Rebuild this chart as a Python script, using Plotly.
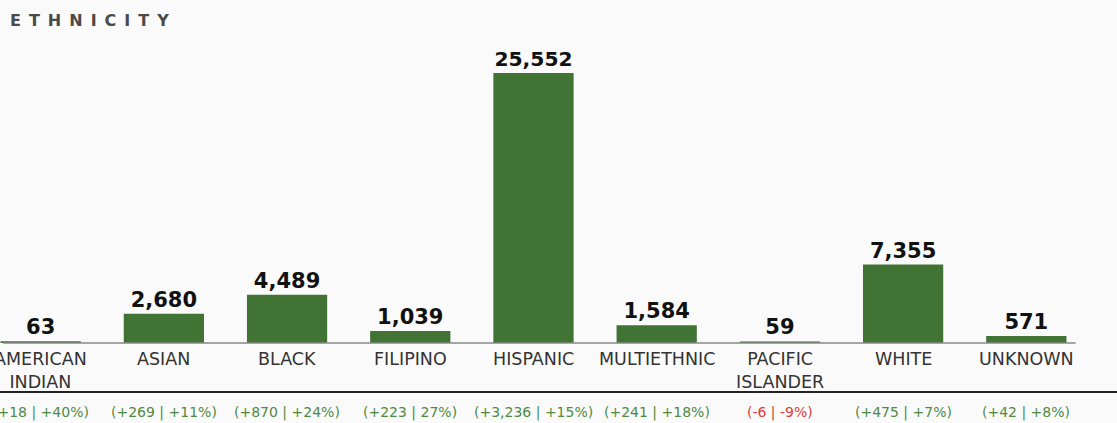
import plotly.graph_objects as go

categories = ["AMERICAN<br>INDIAN", "ASIAN", "BLACK", "FILIPINO", "HISPANIC",
              "MULTIETHNIC", "PACIFIC<br>ISLANDER", "WHITE", "UNKNOWN"]
values = [63, 2680, 4489, 1039, 25552, 1584, 59, 7355, 571]
changes = ["(+18 | +40%)", "(+269 | +11%)", "(+870 | +24%)", "(+223 | 27%)",
           "(+3,236 | +15%)", "(+241 | +18%)", "(-6 | -9%)", "(+475 | +7%)", "(+42 | +8%)"]
change_positive = [True, True, True, True, True, True, False, True, True]
title = "ETHNICITY"

GREEN = "#417335"
FONT = "'DejaVu Sans', sans-serif"
xs = list(range(len(categories)))

fig = go.Figure()
fig.add_trace(go.Bar(
    x=xs, y=values, marker_color=GREEN, width=0.635,
    marker_line=dict(color=GREEN, width=2),
    text=[f"{v:,}" for v in values], textposition="outside",
    textfont=dict(family=FONT, size=21, color="#111111", weight="bold"),
    cliponaxis=False, hoverinfo="skip",
))

for i, (cat, c, pos) in enumerate(zip(categories, changes, change_positive)):
    fig.add_annotation(x=i, y=0, xref="x", yref="paper", text=cat, showarrow=False,
                       font=dict(family=FONT, size=17.5, color="#333333"),
                       yanchor="top", yshift=-4)
    fig.add_annotation(x=i, y=-0.228, xref="x", yref="paper", text=c, showarrow=False,
                       font=dict(family=FONT, size=14, color="#4f8a3f" if pos else "#e03a3a"),
                       yanchor="middle")

fig.add_annotation(x=0.007, y=1.0, xref="paper", yref="paper", xanchor="left", yanchor="middle",
                   text="\u2002".join(title), showarrow=False,
                   font=dict(family=FONT, size=16, color="#4a4a4a", weight="bold"),
                   yshift=20)

# baseline under bars
fig.add_shape(type="line", xref="paper", yref="paper", x0=0.003, x1=0.963, y0=0, y1=0,
              line=dict(color="#888888", width=1.5))
# black separator line
fig.add_shape(type="line", xref="paper", yref="paper", x0=0, x1=1, y0=-0.162, y1=-0.162,
              line=dict(color="#222222", width=2))

fig.update_layout(
    width=1117, height=423,
    margin=dict(l=0, r=0, t=40, b=80),
    paper_bgcolor="#fafafa", plot_bgcolor="#fafafa",
    showlegend=False,
    xaxis=dict(range=[-0.330, 8.736], showticklabels=False,
               showgrid=False, zeroline=False, showline=False, ticks=""),
    yaxis=dict(range=[0, 28780], visible=False, showgrid=False),
)

fig.write_html("out.html", config={"displayModeBar": False},
               post_script="document.body.style.margin='0';")
